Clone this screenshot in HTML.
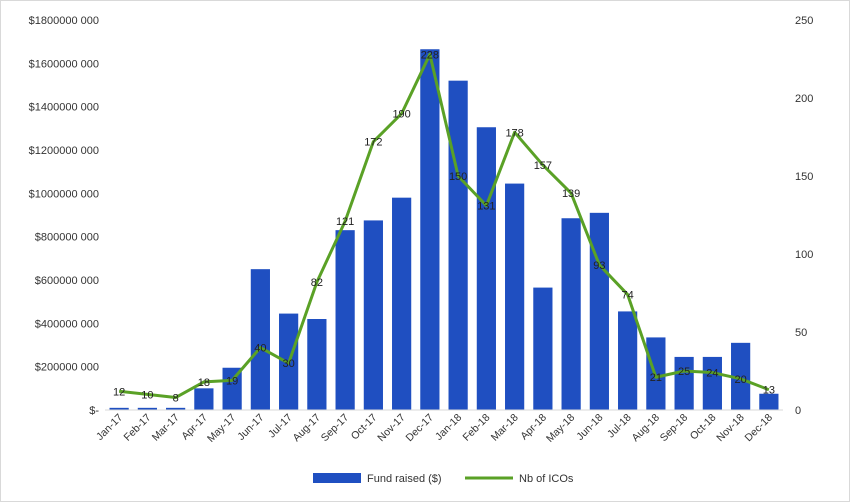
<!DOCTYPE html>
<html><head><meta charset="utf-8"><style>
html,body{margin:0;padding:0;background:#fff;}
svg{display:block;font-family:"Liberation Sans",sans-serif;}
</style></head><body>
<svg id="chart" width="850" height="502" viewBox="0 0 850 502" xmlns="http://www.w3.org/2000/svg">
<rect x="0.5" y="0.5" width="849" height="501" fill="#fff" stroke="#d9d9d9"/>
<g id="grid"></g><g id="bars"></g><g id="line"></g><g id="labels"></g><g id="axes"></g>
<g>
<rect x="313" y="473" width="48" height="10" fill="#1f4fc1"/>
<text x="367" y="482" font-size="11" fill="#333">Fund raised ($)</text>
<line x1="465" y1="478" x2="513" y2="478" stroke="#5aa126" stroke-width="3"/>
<text x="519" y="482" font-size="11" fill="#333">Nb of ICOs</text>
</g>
</svg>
<script>
const categories=["Jan-17","Feb-17","Mar-17","Apr-17","May-17","Jun-17","Jul-17","Aug-17","Sep-17","Oct-17","Nov-17","Dec-17","Jan-18","Feb-18","Mar-18","Apr-18","May-18","Jun-18","Jul-18","Aug-18","Sep-18","Oct-18","Nov-18","Dec-18"];
const fundRaised=[10e6,10e6,10e6,100e6,195e6,650e6,445e6,420e6,830e6,875e6,980e6,1665e6,1520e6,1305e6,1045e6,565e6,885e6,910e6,455e6,335e6,245e6,245e6,310e6,75e6];
const nbICOs=[12,10,8,18,19,40,30,82,121,172,190,228,150,131,178,157,139,93,74,21,25,24,20,13];
const leftTicks=[0,200e6,400e6,600e6,800e6,1000e6,1200e6,1400e6,1600e6,1800e6];
const leftTickLabels=["$-","$200000 000","$400000 000","$600000 000","$800000 000","$1000000 000","$1200000 000","$1400000 000","$1600000 000","$1800000 000"];
const rightTicks=[0,50,100,150,200,250];
const X0=105,X1=783,Y0=410,Y1=20;
const band=(X1-X0)/categories.length;
const xc=i=>X0+band*(i+0.5);
const yL=v=>Y0-(v/1800e6)*(Y0-Y1);
const yR=v=>Y0-(v/250)*(Y0-Y1);
const NS="http://www.w3.org/2000/svg";
function mk(t,a,p){const e=document.createElementNS(NS,t);for(const k in a)e.setAttribute(k,a[k]);p.appendChild(e);return e;}
const gB=document.getElementById('bars'),gL=document.getElementById('line'),gT=document.getElementById('labels'),gA=document.getElementById('axes');
mk('line',{x1:X0,y1:Y0,x2:X1,y2:Y0,stroke:'#d9d9d9'},gA);
leftTicks.forEach((v,i)=>{const t=mk('text',{x:X0-6,y:yL(v)+4,'text-anchor':'end','font-size':11,fill:'#333'},gA);t.textContent=leftTickLabels[i];

});
rightTicks.forEach(v=>{const t=mk('text',{x:X1+12,y:yR(v)+4,'font-size':11,fill:'#333'},gA);t.textContent=v;

});
const bw=band*0.68;
fundRaised.forEach((v,i)=>{const r=mk('rect',{x:xc(i)-bw/2,y:yL(v),width:bw,height:Y0-yL(v),fill:'#1f4fc1'},gB);

});
categories.forEach((c,i)=>{const x=xc(i)+4,y=Y0+8;const t=mk('text',{x:x,y:y,'text-anchor':'end','font-size':10.5,fill:'#333',transform:`rotate(-45 ${x} ${y})`},gA);t.textContent=c;

});
const pts=nbICOs.map((v,i)=>xc(i)+','+yR(v)).join(' ');
const pl=mk('polyline',{points:pts,fill:'none',stroke:'#5aa126','stroke-width':3,'stroke-linejoin':'round'},gL);


nbICOs.forEach((v,i)=>{const t=mk('text',{x:xc(i),y:yR(v)+4,'text-anchor':'middle','font-size':11,fill:'#222'},gT);t.textContent=v;

});
</script>
</body></html>
